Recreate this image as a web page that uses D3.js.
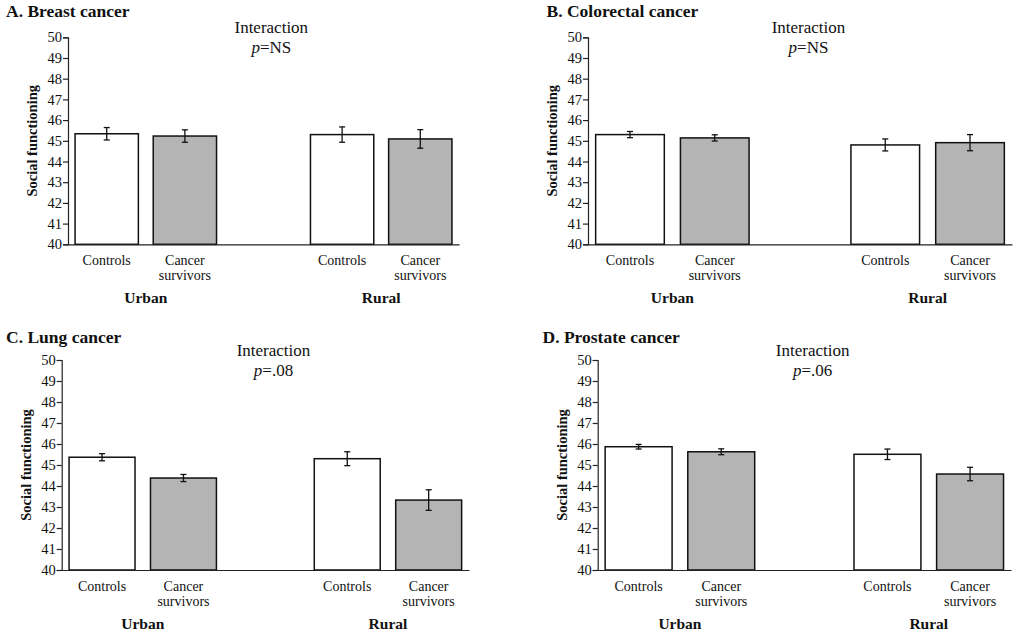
<!DOCTYPE html>
<html>
<head>
<meta charset="utf-8">
<script src="https://cdn.jsdelivr.net/npm/d3@7"></script>
<style>
  html, body { margin: 0; padding: 0; background: #fff; }
  svg { display: block; font-family: "Liberation Serif", "Times New Roman", serif; }
</style>
</head>
<body>
<svg id="chart" width="1015" height="634"></svg>
<script>
// ---------------- DATA ----------------
const panelTitles = ["A. Breast cancer", "B. Colorectal cancer", "C. Lung cancer", "D. Prostate cancer"];
const pValues = ["NS", "NS", ".08", ".06"];
const groups = ["Urban", "Rural"];
const series = ["Controls", "Cancer survivors"];
const yTicks = [40, 41, 42, 43, 44, 45, 46, 47, 48, 49, 50];
const yAxisTitle = "Social functioning";

// values in order: Urban-Controls, Urban-Cancer survivors, Rural-Controls, Rural-Cancer survivors
const breastMeans     = [45.34, 45.23, 45.30, 45.09];
const breastErr       = [0.30, 0.30, 0.37, 0.45];
const colorectalMeans = [45.30, 45.14, 44.80, 44.91];
const colorectalErr   = [0.15, 0.15, 0.29, 0.39];
const lungMeans       = [45.37, 44.38, 45.30, 43.33];
const lungErr         = [0.17, 0.17, 0.33, 0.49];
const prostateMeans   = [45.87, 45.63, 45.51, 44.57];
const prostateErr     = [0.11, 0.14, 0.25, 0.32];

const allMeans = [breastMeans, colorectalMeans, lungMeans, prostateMeans];
const allErr = [breastErr, colorectalErr, lungErr, prostateErr];

// ---------------- LAYOUT ----------------
const layout = [
  { left: 68,    right: 459,  top: 37.3, bottom: 244.3, titleX: 6,     titleY: 16.5 },
  { left: 588,   right: 1012, top: 37.3, bottom: 244.3, titleX: 546.5, titleY: 16.5 },
  { left: 61.7,  right: 469,  top: 360,  bottom: 570,   titleX: 6,     titleY: 343 },
  { left: 597.7, right: 1011, top: 360,  bottom: 570,   titleX: 542.5, titleY: 343 }
];
const fills = { "Controls": "#ffffff", "Cancer survivors": "#b4b4b4" };
const serif = "'Liberation Serif', 'Times New Roman', serif";

const svg = d3.select("#chart");

panelTitles.forEach((title, pi) => {
  const L = layout[pi];
  const W = L.right - L.left;
  const g = svg.append("g").attr("transform", `translate(${L.left},0)`);

  const y = d3.scaleLinear().domain([40, 50]).range([L.bottom, L.top]);
  const x0 = d3.scaleBand().domain(groups).range([0, W]).paddingInner(0.399).paddingOuter(0.03);
  const x1 = d3.scaleBand().domain(series).range([0, x0.bandwidth()]).paddingInner(0.19).paddingOuter(0);

  const rows = [];
  groups.forEach((grp, gi) => series.forEach((s, si) => {
    const k = gi * 2 + si;
    rows.push({ group: grp, series: s, mean: allMeans[pi][k], err: allErr[pi][k] });
  }));

  // bars
  g.selectAll("rect.bar").data(rows).join("rect")
    .attr("class", "bar")
    .attr("x", d => x0(d.group) + x1(d.series))
    .attr("width", x1.bandwidth())
    .attr("y", d => y(d.mean))
    .attr("height", d => y(40) - y(d.mean))
    .attr("fill", d => fills[d.series])
    .attr("stroke", "#111")
    .attr("stroke-width", 1.5);

  // error bars
  const eb = g.selectAll("g.err").data(rows).join("g").attr("class", "err")
    .attr("transform", d => `translate(${x0(d.group) + x1(d.series) + x1.bandwidth() / 2},0)`);
  eb.append("line").attr("x1", 0).attr("x2", 0)
    .attr("y1", d => y(d.mean + d.err)).attr("y2", d => y(d.mean - d.err))
    .attr("stroke", "#111").attr("stroke-width", 1.3);
  eb.append("line").attr("x1", -3).attr("x2", 3)
    .attr("y1", d => y(d.mean + d.err)).attr("y2", d => y(d.mean + d.err))
    .attr("stroke", "#111").attr("stroke-width", 1.3);
  eb.append("line").attr("x1", -3).attr("x2", 3)
    .attr("y1", d => y(d.mean - d.err)).attr("y2", d => y(d.mean - d.err))
    .attr("stroke", "#111").attr("stroke-width", 1.3);

  // y axis
  const yAxis = d3.axisLeft(y).tickValues(yTicks).tickSize(5).tickPadding(1).tickFormat(d3.format("d"));
  const ya = g.append("g").call(yAxis).attr("font-family", serif);
  ya.select(".domain").attr("stroke", "#222").attr("stroke-width", 1.2);
  ya.selectAll(".tick line").attr("stroke", "#222").attr("stroke-width", 1.2);
  ya.selectAll(".tick text").attr("font-size", 14.5).attr("fill", "#111").attr("font-family", serif);

  // x axis baseline (no ticks)
  const xAxis = d3.axisBottom(x0).tickSize(0).tickFormat("");
  const xa = g.append("g").attr("transform", `translate(0,${L.bottom})`).call(xAxis);
  xa.select(".domain").attr("stroke", "#222").attr("stroke-width", 1.2);

  // category labels
  rows.forEach(d => {
    const cx = x0(d.group) + x1(d.series) + x1.bandwidth() / 2;
    const words = d.series === "Cancer survivors" ? ["Cancer", "survivors"] : [d.series];
    const t = g.append("text").attr("x", cx).attr("y", L.bottom + 20.5)
      .attr("text-anchor", "middle").attr("font-size", 14).attr("fill", "#111");
    words.forEach((w, wi) => t.append("tspan").attr("x", cx).attr("dy", wi === 0 ? 0 : 15.5).text(w));
  });

  // group labels
  groups.forEach(grp => {
    g.append("text").attr("x", x0(grp) + x0.bandwidth() / 2).attr("y", L.bottom + 58.5)
      .attr("text-anchor", "middle").attr("font-size", 15.5).attr("font-weight", "bold")
      .attr("fill", "#111").text(grp);
  });

  // y axis title
  g.append("text")
    .attr("transform", `translate(${-31},${(L.top + L.bottom) / 2}) rotate(-90)`)
    .attr("text-anchor", "middle").attr("font-size", 14.5).attr("font-weight", "bold")
    .attr("fill", "#111").text(yAxisTitle);

  // interaction annotation
  const ix = W * 0.52;
  g.append("text").attr("x", ix).attr("y", L.top - 4).attr("text-anchor", "middle")
    .attr("font-size", 17).attr("fill", "#111").text("Interaction");
  const pt = g.append("text").attr("x", ix).attr("y", L.top + 16).attr("text-anchor", "middle")
    .attr("font-size", 17).attr("fill", "#111");
  pt.append("tspan").attr("font-style", "italic").text("p");
  pt.append("tspan").text("=" + pValues[pi]);

  // panel title
  svg.append("text").attr("x", L.titleX).attr("y", L.titleY)
    .attr("font-size", 17.5).attr("font-weight", "bold").attr("fill", "#111").text(title);
});
</script>
</body>
</html>
